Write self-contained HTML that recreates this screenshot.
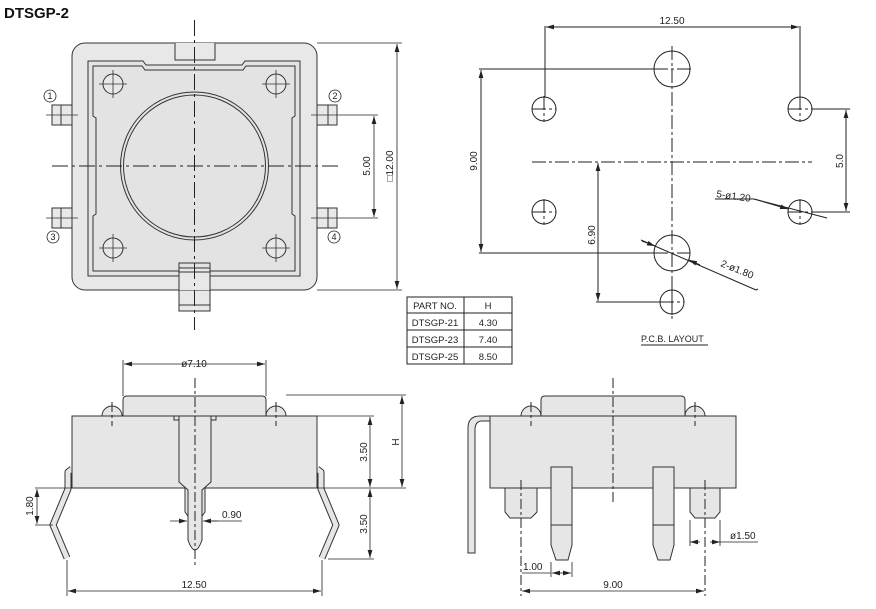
<!DOCTYPE html>
<html><head><meta charset="utf-8"><style>
body{margin:0;background:#fff;}
svg{display:block;}
text{font-family:"Liberation Sans",sans-serif;fill:#222;}
.t{font-size:10px;}
</style></head><body>
<svg width="876" height="609" viewBox="0 0 876 609" xmlns="http://www.w3.org/2000/svg">
<defs>
<marker id="a" viewBox="0 0 10 6" refX="10" refY="3" markerWidth="8" markerHeight="5" orient="auto-start-reverse" markerUnits="userSpaceOnUse"><path d="M0,0L10,3L0,6z" fill="#222"/></marker>
</defs>
<text x="4" y="18" style="font-size:15px;font-weight:bold;fill:#111">DTSGP-2</text>

<!-- TOP VIEW -->
<g stroke="#333" stroke-width="1" fill="#e8e8e8">
<rect x="52" y="105" width="20" height="20"/><rect x="52" y="208" width="20" height="20"/>
<rect x="317" y="105" width="20" height="20"/><rect x="317" y="208" width="20" height="20"/>
<line x1="61" y1="105" x2="61" y2="125"/><line x1="61" y1="208" x2="61" y2="228"/>
<line x1="328" y1="105" x2="328" y2="125"/><line x1="328" y1="208" x2="328" y2="228"/>
<rect x="179" y="285" width="31" height="26"/>
<line x1="179" y1="305" x2="210" y2="305"/>
<rect x="72" y="43" width="245" height="247" rx="13"/>
<path d="M175,43V60H215V43" fill="#e8e8e8"/>
<path d="M179,290V272H210V290" fill="#e8e8e8"/>
<path d="M88,61H143L146,65H242L245,61H300V276H210V268H179V276H88Z" fill="#e3e3e3"/>
<path d="M93,66H142L145,70H243L246,66H295V116L292,118V214L295,216V271H210V263H179V271H93V216L96,214V118L93,116Z" fill="#e3e3e3"/>
<circle cx="194.5" cy="166" r="74" fill="#e3e3e3"/>
<circle cx="194.5" cy="166" r="71" fill="#e3e3e3"/>
<circle cx="113" cy="84" r="10"/><circle cx="276" cy="84" r="10"/>
<circle cx="113" cy="248" r="10"/><circle cx="276" cy="248" r="10"/>
</g>
<g stroke="#333" stroke-width="0.8">
<path d="M113,70V98M99,84H127M276,70V98M262,84H290M113,234V262M99,248H127M276,234V262M262,248H290"/>
<path d="M46,115H78M46,218H78M311,115H340M311,218H340"/>
</g>
<g stroke="#222" stroke-width="1" stroke-dasharray="16,4,3,4" fill="none">
<line x1="194.5" y1="20" x2="194.5" y2="330"/>
<line x1="52" y1="166" x2="338" y2="166"/>
</g>
<g stroke="#222" stroke-width="0.8" fill="none">
<circle cx="50" cy="96" r="6"/><circle cx="335" cy="96" r="6"/>
<circle cx="53" cy="237" r="6"/><circle cx="334" cy="237" r="6"/>
<path d="M340,115H378M340,218H378M317,43H402M317,290H402"/>
<line x1="374" y1="116" x2="374" y2="217" marker-start="url(#a)" marker-end="url(#a)"/>
<line x1="397" y1="44" x2="397" y2="289" marker-start="url(#a)" marker-end="url(#a)"/>
</g>
<g style="font-size:9px" text-anchor="middle">
<text x="50" y="99">1</text><text x="335" y="99">2</text><text x="53" y="240">3</text><text x="334" y="240">4</text>
</g>
<text class="t" transform="translate(370,166) rotate(-90)" text-anchor="middle">5.00</text>
<text class="t" transform="translate(393,166) rotate(-90)" text-anchor="middle">□12.00</text>

<!-- TABLE -->
<g stroke="#222" stroke-width="1" fill="none">
<rect x="407" y="297" width="105" height="67"/>
<path d="M407,313H512M407,330H512M407,347H512M464,297V364"/>
</g>
<g style="font-size:9.5px" text-anchor="middle">
<text x="435" y="309">PART NO.</text><text x="488" y="309">H</text>
<text x="435" y="326">DTSGP-21</text><text x="488" y="326">4.30</text>
<text x="435" y="343">DTSGP-23</text><text x="488" y="343">7.40</text>
<text x="435" y="360">DTSGP-25</text><text x="488" y="360">8.50</text>
</g>

<!-- PCB LAYOUT -->
<g stroke="#222" stroke-width="1" fill="none">
<circle cx="672" cy="69" r="18"/><circle cx="672" cy="253" r="18"/>
<circle cx="544" cy="109" r="12"/><circle cx="800" cy="109" r="12"/>
<circle cx="544" cy="212" r="12"/><circle cx="800" cy="212" r="12"/>
<circle cx="672" cy="302" r="12"/>
<g stroke-dasharray="14,3,3,3">
<line x1="532" y1="162" x2="812" y2="162"/>
<line x1="672" y1="46" x2="672" y2="320"/>
<path d="M532,109H556M788,109H812M532,212H556M788,212H812M654,69H694M654,253H690M660,302H684"/>
<path d="M544,96V122M800,96V122M544,199V225M800,199V225M672,289V315"/>
</g>
<path d="M545,26V97M800,26V97M479,69H654M479,253H654M596,302H660M812,109H850M812,212H850"/>
<line x1="546" y1="27" x2="799" y2="27" marker-start="url(#a)" marker-end="url(#a)"/>
<line x1="481" y1="70" x2="481" y2="252" marker-start="url(#a)" marker-end="url(#a)"/>
<line x1="598" y1="163" x2="598" y2="301" marker-start="url(#a)" marker-end="url(#a)"/>
<line x1="846" y1="110" x2="846" y2="211" marker-start="url(#a)" marker-end="url(#a)"/>
<path d="M715,199H754L827,218"/>
<line x1="754" y1="199" x2="788" y2="209" marker-end="url(#a)"/>
<line x1="641" y1="240" x2="756" y2="290"/>
<line x1="642" y1="241" x2="655" y2="246" marker-end="url(#a)"/>
<line x1="700" y1="265" x2="689" y2="260" marker-end="url(#a)"/>
<path d="M756,290L758,289"/>
<path d="M641,345H708"/>
</g>
<text class="t" x="672" y="24" text-anchor="middle">12.50</text>
<text class="t" transform="translate(477,161) rotate(-90)" text-anchor="middle">9.00</text>
<text class="t" transform="translate(595,235) rotate(-90)" text-anchor="middle">6.90</text>
<text class="t" transform="translate(843,161) rotate(-90)" text-anchor="middle">5.0</text>
<text class="t" transform="translate(716,197) rotate(8)">5-ø1.20</text>
<text class="t" transform="translate(720,266) rotate(22)">2-ø1.80</text>
<text style="font-size:9px" x="641" y="342">P.C.B. LAYOUT</text>

<!-- SIDE VIEW LEFT -->
<g stroke="#333" stroke-width="1" fill="#e6e6e6">
<path d="M102,416A10,10 0 0 1 122,416Z"/><path d="M266,416A10,10 0 0 1 286,416Z"/>
<path d="M123,416V400Q123,396 127,396H262Q266,396 266,400V416Z"/>
<polyline points="72,469 68,472 68,489 53,525 67,558" fill="none" stroke="#333" stroke-width="7" stroke-linejoin="round"/>
<polyline points="72,469 68,472 68,489 53,525 67,558" fill="none" stroke="#e6e6e6" stroke-width="5" stroke-linejoin="round"/>
<polyline points="317,469 321,472 321,489 336,525 322,558" fill="none" stroke="#333" stroke-width="7" stroke-linejoin="round"/>
<polyline points="317,469 321,472 321,489 336,525 322,558" fill="none" stroke="#e6e6e6" stroke-width="5" stroke-linejoin="round"/>
<rect x="72" y="416" width="245" height="72"/>
<path d="M185,488V512L190,519H200L205,512V488Z"/>
<path d="M179,416V482L188,490V540Q195,560 202,540V490L211,482V416Z"/>
<path d="M174,416V420H179M216,416V420H211" fill="none"/>
</g>
<g stroke="#222" stroke-width="1" stroke-dasharray="10,3,3,3" fill="none">
<line x1="195" y1="378" x2="195" y2="565"/>
<line x1="112" y1="402" x2="112" y2="426"/><line x1="276" y1="402" x2="276" y2="426"/>
</g>
<g stroke="#222" stroke-width="0.8" fill="none">
<path d="M123,360V396M266,360V396M286,395H406M317,416H374M317,488H406M328,559H374M35,488H72M35,525H53M67,560V596M322,560V596M205,521H242"/>
<line x1="124" y1="364" x2="265" y2="364" marker-start="url(#a)" marker-end="url(#a)"/>
<line x1="402" y1="396" x2="402" y2="487" marker-start="url(#a)" marker-end="url(#a)"/>
<line x1="370" y1="417" x2="370" y2="487" marker-start="url(#a)" marker-end="url(#a)"/>
<line x1="370" y1="489" x2="370" y2="558" marker-start="url(#a)" marker-end="url(#a)"/>
<line x1="37" y1="489" x2="37" y2="524" marker-start="url(#a)" marker-end="url(#a)"/>
<line x1="68" y1="591" x2="321" y2="591" marker-start="url(#a)" marker-end="url(#a)"/>
<line x1="170" y1="521" x2="187" y2="521" marker-end="url(#a)"/>
<line x1="218" y1="521" x2="203" y2="521" marker-end="url(#a)"/>
</g>
<text class="t" x="194" y="367" text-anchor="middle">ø7.10</text>
<text class="t" transform="translate(399,442) rotate(-90)" text-anchor="middle">H</text>
<text class="t" transform="translate(367,452) rotate(-90)" text-anchor="middle">3.50</text>
<text class="t" transform="translate(367,524) rotate(-90)" text-anchor="middle">3.50</text>
<text class="t" transform="translate(33,506) rotate(-90)" text-anchor="middle">1.80</text>
<text class="t" x="222" y="518">0.90</text>
<text class="t" x="194" y="588" text-anchor="middle">12.50</text>

<!-- SIDE VIEW RIGHT -->
<g stroke="#333" stroke-width="1" fill="#e6e6e6">
<path d="M521,416A10,10 0 0 1 541,416Z"/><path d="M685,416A10,10 0 0 1 705,416Z"/>
<path d="M541,416V400Q541,396 545,396H681Q685,396 685,400V416Z"/>
<path d="M490,416H480Q468,416 468,428V553H475V430Q475,421 482,421H490Z"/>
<rect x="490" y="416" width="246" height="72"/>
<path d="M505,488V512L510,518H531L537,512V488Z"/>
<path d="M690,488V512L695,518H715L720,512V488Z"/>
<path d="M551,467H572V545L568,560H556L551,545Z"/><path d="M551,525H572"/>
<path d="M653,467H674V545L670,560H658L653,545Z"/><path d="M653,525H674"/>
</g>
<g stroke="#222" stroke-width="1" stroke-dasharray="10,3,3,3" fill="none">
<line x1="613" y1="378" x2="613" y2="505"/>
<line x1="531" y1="402" x2="531" y2="426"/><line x1="695" y1="402" x2="695" y2="426"/>
<line x1="521" y1="480" x2="521" y2="596"/><line x1="705" y1="480" x2="705" y2="596"/>
</g>
<g stroke="#222" stroke-width="0.8" fill="none">
<path d="M551,562V577M572,562V577M690,520V546M720,520V546M720,542H758"/>
<line x1="522" y1="591" x2="704" y2="591" marker-start="url(#a)" marker-end="url(#a)"/>
<line x1="522" y1="573" x2="551" y2="573"/>
<line x1="562" y1="573" x2="552" y2="573" marker-end="url(#a)"/>
<line x1="562" y1="573" x2="571" y2="573" marker-end="url(#a)"/>
<line x1="690" y1="542" x2="700" y2="542" marker-start="url(#a)"/>
<line x1="710" y1="542" x2="720" y2="542" marker-end="url(#a)"/>
</g>
<text class="t" x="523" y="570">1.00</text>
<text class="t" x="613" y="588" text-anchor="middle">9.00</text>
<text class="t" x="730" y="539">ø1.50</text>
</svg>
</body></html>
